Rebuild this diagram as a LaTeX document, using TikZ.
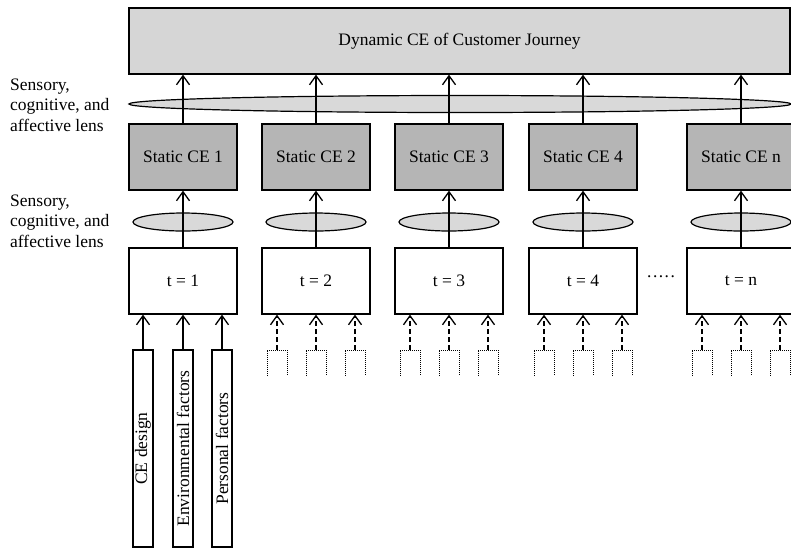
\documentclass[tikz,border=0pt]{standalone}
\usepackage{fontspec}
\setmainfont{Liberation Serif}
\usetikzlibrary{arrows.meta,shapes.geometric}
\definecolor{toplight}{gray}{0.84}
\definecolor{staticgray}{gray}{0.71}
\definecolor{lensgray}{gray}{0.85}
\begin{document}
\begin{tikzpicture}[x=1pt,y=-1pt,
  every node/.style={font=\fontsize{17.5}{20.5}\selectfont},
  box/.style={draw,line width=1.3pt,rectangle,inner sep=0pt},
  topbox/.style={box,fill=toplight,minimum width=661pt,minimum height=66pt},
  staticbox/.style={box,fill=staticgray,minimum width=108pt,minimum height=66pt},
  timebox/.style={box,fill=white,minimum width=108pt,minimum height=66pt},
  lens/.style={draw,line width=1.2pt,ellipse,fill=lensgray,inner sep=0pt},
  factor/.style={box,fill=white,rotate=90,minimum width=197pt,minimum height=20pt},
  up/.style={line width=1.3pt,-{Straight Barb[length=9pt,width=13pt,line width=1.3pt]}},
  dashup/.style={up,dash pattern=on 5pt off 3pt},
  ghost/.style={line width=0.9pt,dash pattern=on 1pt off 1pt},
  sidelabel/.style={align=left,anchor=west,inner sep=0pt}
]
\useasboundingbox (0,0) rectangle (791,550);
\clip (0,0) rectangle (791,550);

% journey-level experience
\node[topbox] (dyn) at (459.5,41) {Dynamic CE of Customer Journey};
\node[lens,minimum width=662pt,minimum height=17pt] (biglens) at (460,104) {};

% lens labels
\node[sidelabel] (lab1) at (10,105) {Sensory,\\cognitive, and\\affective lens};
\node[sidelabel] (lab2) at (10,221) {Sensory,\\cognitive, and\\affective lens};

% touchpoints
\foreach \i/\x/\t in {1/183/1,2/316/2,3/449/3,4/583/4,n/741/n}{
  \node[staticbox] (s\i) at (\x,157) {Static CE \t};
  \node[lens,minimum width=100pt,minimum height=18pt] (l\i) at (\x,222) {};
  \node[timebox] (t\i) at (\x,281) {t = \t};
  \draw[up] (s\i.north) -- (s\i.north |- dyn.south);
  \draw[up] (t\i.north) -- (s\i.south);
}

\node (dots) at (661,279) {·····};

% inputs to the first touchpoint
\node[factor] (fa) at (143,448.5) {CE design};
\node[factor] (fb) at (183,448.5) {Environmental factors};
\node[factor] (fc) at (222,448.5) {Personal factors};
\foreach \f in {fa,fb,fc}
  \draw[up] (\f.east) -- (\f.east |- t1.south);

% unspecified inputs to the later touchpoints
\foreach \i/\x in {2/316,3/449,4/583,n/741}{
  \foreach \k/\dx in {a/-39,b/0,c/39}{
    \coordinate (g\i\k) at (\x+\dx,350);
    \draw[ghost] ([xshift=-10pt,yshift=-26pt]g\i\k) -- ([xshift=-10pt]g\i\k)
      -- ([xshift=10pt]g\i\k) -- ([xshift=10pt,yshift=-26pt]g\i\k);
    \draw[dashup] (g\i\k) -- (g\i\k |- t\i.south);
  }
}
\end{tikzpicture}
\end{document}
